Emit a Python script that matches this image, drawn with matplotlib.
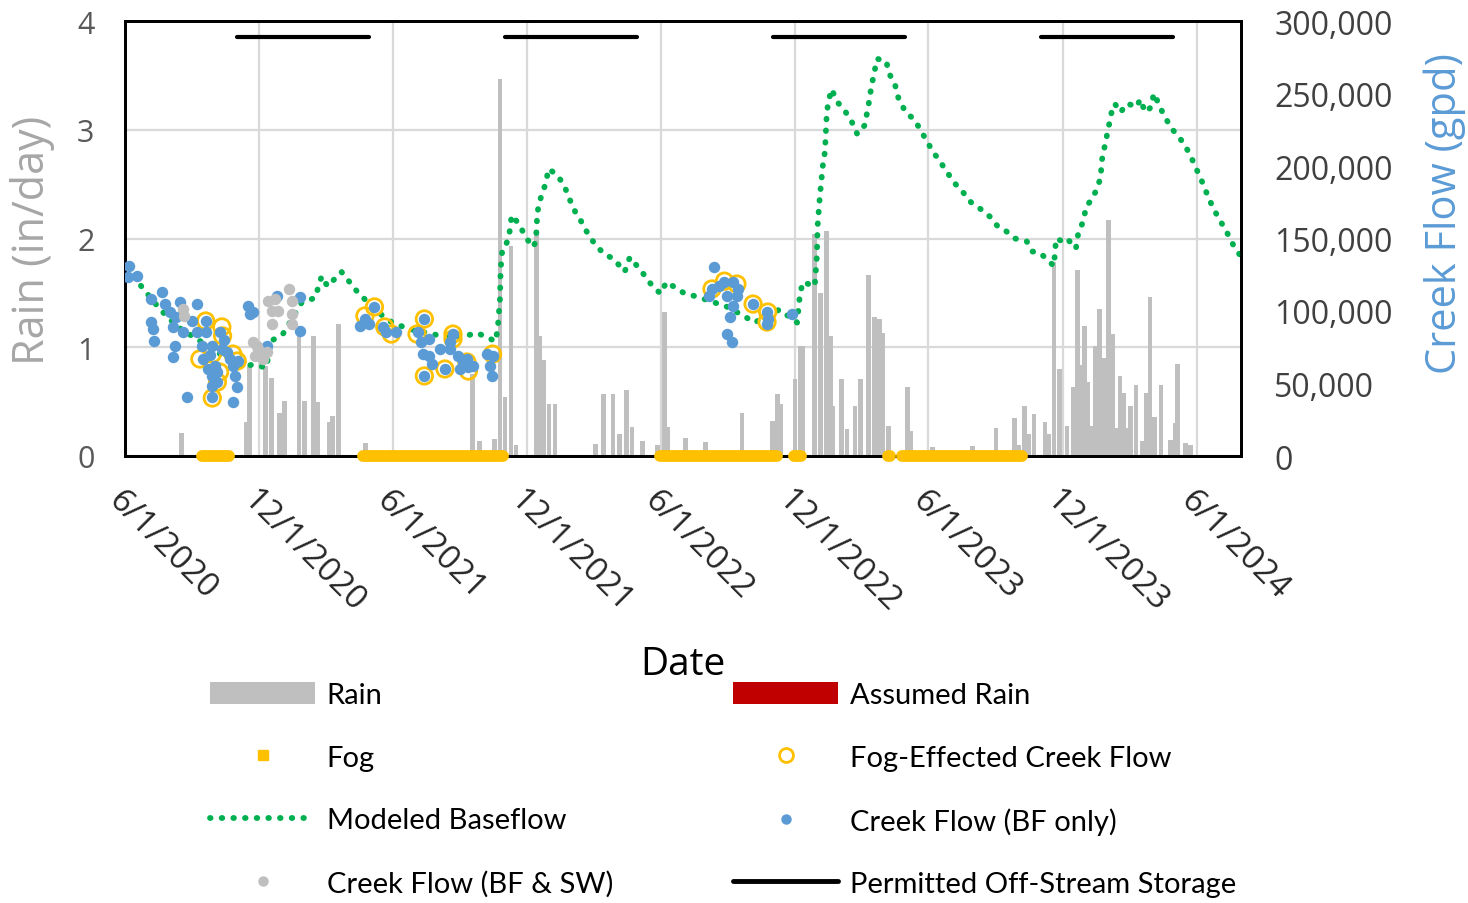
import matplotlib
matplotlib.use("Agg")
import matplotlib.pyplot as plt
from matplotlib.lines import Line2D
from matplotlib.patches import Patch
from matplotlib.ticker import FuncFormatter
import pandas as pd

plt.rcParams['font.family'] = ['Open Sans', 'DejaVu Sans']

# rain (in/day), left axis
rain_dates = ['2020-08-17', '2020-11-13', '2020-11-18', '2020-12-10', '2020-12-18', '2020-12-29',
              '2021-01-04', '2021-01-24', '2021-02-01', '2021-02-13', '2021-02-19', '2021-03-06',
              '2021-03-11', '2021-03-19', '2021-04-25',
              '2021-09-18', '2021-09-27', '2021-10-18', '2021-10-25', '2021-11-01', '2021-11-09',
              '2021-11-16', '2021-12-14', '2021-12-18', '2021-12-24', '2021-12-31', '2022-01-08',
              '2022-03-04', '2022-03-15', '2022-03-28', '2022-04-06', '2022-04-15', '2022-04-23',
              '2022-05-07', '2022-05-28', '2022-06-06', '2022-06-11', '2022-07-05', '2022-08-01',
              '2022-09-20',
              '2022-10-31', '2022-11-07', '2022-11-12', '2022-12-01', '2022-12-08', '2022-12-12',
              '2022-12-28', '2023-01-05', '2023-01-13', '2023-01-19', '2023-01-22', '2023-02-02',
              '2023-02-10', '2023-02-21', '2023-02-28', '2023-03-11', '2023-03-19', '2023-03-26',
              '2023-03-31', '2023-04-08', '2023-05-03', '2023-05-08', '2023-06-07', '2023-07-31',
              '2023-09-01', '2023-09-26', '2023-10-02', '2023-10-10', '2023-10-16', '2023-10-23',
              '2023-11-07', '2023-11-12', '2023-11-19', '2023-11-27', '2023-12-07', '2023-12-15',
              '2023-12-21', '2023-12-26', '2023-12-31', '2024-01-04', '2024-01-08', '2024-01-14',
              '2024-01-20', '2024-01-26', '2024-02-01', '2024-02-07', '2024-02-11', '2024-02-17',
              '2024-02-22', '2024-02-26', '2024-03-02', '2024-03-10', '2024-03-18', '2024-03-24',
              '2024-03-29', '2024-04-04', '2024-04-13', '2024-04-26', '2024-05-02', '2024-05-05',
              '2024-05-16', '2024-05-23']
rain_in = [0.21, 0.31, 0.83, 0.83, 0.72, 0.40, 0.51, 1.17, 0.51, 1.10, 0.50, 0.31, 0.37, 1.21, 0.12,
           0.75, 0.14, 0.16, 3.47, 0.54, 1.93, 0.10, 2.08, 1.10, 0.88, 0.48, 0.48, 0.11, 0.57, 0.57,
           0.20, 0.61, 0.27, 0.14, 0.10, 1.32, 0.27, 0.17, 0.13, 0.40,
           0.32, 0.57, 0.48, 0.71, 1.01, 1.01, 2.04, 1.50, 2.07, 1.10, 0.46, 0.71, 0.25, 0.46, 0.71,
           1.66, 1.28, 1.26, 1.13, 0.28, 0.63, 0.23, 0.08, 0.09,
           0.26, 0.35, 0.10, 0.46, 0.20, 0.39, 0.31, 0.20, 1.78, 0.80, 0.28, 0.63, 1.71, 0.84, 1.20,
           0.68, 0.28, 1.01, 1.35, 0.90, 2.17, 1.12, 0.26, 0.74, 0.58, 0.26, 0.46, 0.65, 0.14, 0.58,
           1.46, 0.36, 0.65, 0.15, 0.30, 0.85, 0.12, 0.10]

# fog periods (drawn on the zero line)
fog_start = ['2020-09-14', '2021-04-21', '2022-05-31', '2022-11-30', '2023-04-07', '2023-04-26']
fog_end = ['2020-10-21', '2021-10-29', '2022-11-06', '2022-12-09', '2023-04-10', '2023-10-06']

# permitted off-stream storage seasons
perm_start = ['2020-11-01', '2021-11-01', '2022-11-01', '2023-11-01']
perm_end = ['2021-04-30', '2022-04-30', '2023-04-30', '2024-04-30']
perm_level = 3.85

# modeled baseflow (gpd), right axis
base_dates = ['2020-06-03', '2020-06-17', '2020-06-28', '2020-07-19', '2020-08-12', '2020-11-07',
              '2020-11-21', '2020-12-11', '2020-12-16', '2021-01-02', '2021-01-08', '2021-01-28',
              '2021-02-15', '2021-02-24', '2021-03-04', '2021-03-23', '2021-04-03', '2021-04-14',
              '2021-04-26', '2021-05-07', '2021-05-28', '2021-06-20', '2021-08-04', '2021-09-04',
              '2021-09-23', '2021-10-07', '2021-10-19', '2021-10-22', '2021-10-25', '2021-10-26',
              '2021-10-28', '2021-11-01', '2021-11-07', '2021-11-10', '2021-11-20', '2021-11-29',
              '2021-12-09', '2021-12-13', '2021-12-15', '2021-12-19', '2021-12-27', '2021-12-30',
              '2022-01-11', '2022-01-21', '2022-01-28', '2022-02-05', '2022-02-15', '2022-02-22',
              '2022-03-05', '2022-03-17', '2022-03-29', '2022-04-13', '2022-04-20', '2022-04-30',
              '2022-05-11', '2022-05-21', '2022-06-01', '2022-06-09', '2022-07-04', '2022-07-20',
              '2022-08-30', '2022-09-21', '2022-10-07', '2022-11-10', '2022-12-04', '2022-12-08',
              '2022-12-12', '2022-12-28', '2022-12-31', '2023-01-01', '2023-01-04', '2023-01-08',
              '2023-01-11', '2023-01-13', '2023-01-15', '2023-01-20', '2023-01-28', '2023-02-06',
              '2023-02-17', '2023-02-24', '2023-03-06', '2023-03-11', '2023-03-15', '2023-03-23',
              '2023-04-05', '2023-04-07', '2023-04-16', '2023-04-21', '2023-05-01', '2023-05-13',
              '2023-05-21', '2023-05-29', '2023-06-07', '2023-06-17', '2023-06-26', '2023-07-07',
              '2023-07-18', '2023-07-29', '2023-08-12', '2023-08-24', '2023-09-04', '2023-09-15',
              '2023-09-27', '2023-10-13', '2023-10-21', '2023-10-31', '2023-11-09', '2023-11-19',
              '2023-11-22', '2023-12-01', '2023-12-07', '2023-12-19', '2023-12-22', '2023-12-29',
              '2024-01-02', '2024-01-11', '2024-01-18', '2024-01-22', '2024-01-23', '2024-01-27',
              '2024-02-02', '2024-02-06', '2024-02-10', '2024-02-18', '2024-02-26', '2024-03-12',
              '2024-03-15', '2024-03-23', '2024-03-31', '2024-04-03', '2024-04-07', '2024-04-15',
              '2024-04-27', '2024-05-06', '2024-05-16', '2024-05-25', '2024-06-02', '2024-06-09',
              '2024-06-16', '2024-06-24', '2024-07-03', '2024-07-12', '2024-07-20', '2024-07-29']
base_gpd = [130000, 121000, 114000, 101000, 89000, 61000,
            63000, 61000, 79000, 84000, 89000, 106000,
            109000, 124000, 117000, 127000, 120000, 113000,
            107000, 101000, 93000, 88000, 83000, 82000,
            85000, 82000, 79000, 88000, 108000, 129000,
            141000, 143000, 154000, 166000, 160000, 151000,
            144000, 148000, 168000, 177000, 189000, 198000,
            194000, 186000, 177000, 168000, 160000, 153000,
            145000, 139000, 136000, 127000, 137000, 131000,
            124000, 117000, 112000, 120000, 112000, 110000,
            103000, 97000, 92000, 101000, 92000, 112000,
            120000, 117000, 138000, 159000, 179000, 200000,
            210000, 232000, 243000, 253000, 244000, 239000,
            230000, 222000, 228000, 241000, 254000, 274000,
            272000, 265000, 257000, 247000, 237000, 232000,
            225000, 218000, 210000, 203000, 196000, 188000,
            182000, 175000, 170000, 165000, 158000, 155000,
            150000, 148000, 141000, 140000, 136000, 131000,
            150000, 148000, 150000, 143000, 153000, 162000,
            172000, 178000, 186000, 193000, 203000, 213000,
            228000, 238000, 243000, 237000, 243000, 241000,
            246000, 237000, 241000, 250000, 246000, 237000,
            226000, 221000, 214000, 205000, 196000, 188000,
            179000, 170000, 162000, 154000, 146000, 139000]

# measured creek flow, baseflow only (gpd)
bf_dates = ['2020-06-07', '2020-06-05', '2020-06-17', '2020-07-07', '2020-07-22', '2020-07-07',
            '2020-07-09', '2020-07-10', '2020-07-25', '2020-08-01', '2020-08-05', '2020-08-08',
            '2020-08-05', '2020-08-15', '2020-08-10', '2020-08-19', '2020-08-25', '2020-09-07',
            '2020-08-31', '2020-09-07', '2020-09-14', '2020-09-15', '2020-09-19', '2020-09-20',
            '2020-09-28', '2020-09-22', '2020-09-28', '2020-09-28', '2020-10-04', '2020-10-08',
            '2020-10-11', '2020-10-18', '2020-10-22', '2020-10-26', '2020-11-02', '2020-10-29',
            '2020-11-01', '2020-10-26', '2020-09-27', '2020-10-01', '2020-10-04', '2020-09-25',
            '2020-10-14',
            '2020-11-16', '2020-11-18', '2020-11-22', '2020-12-11', '2020-12-25', '2021-01-25',
            '2021-01-25',
            '2021-05-07', '2021-04-24', '2021-04-17', '2021-04-30', '2021-05-18', '2021-05-23',
            '2021-06-06',
            '2021-07-14', '2021-07-05', '2021-07-10', '2021-07-21', '2021-07-12', '2021-07-21',
            '2021-07-25', '2021-08-04', '2021-08-18', '2021-08-22', '2021-08-18', '2021-08-29',
            '2021-09-05', '2021-09-12', '2021-09-10', '2021-09-18', '2021-10-07', '2021-10-15',
            '2021-10-11', '2021-10-14', '2021-07-14', '2021-08-11', '2021-09-01',
            '2022-08-13', '2022-08-06', '2022-08-10', '2022-08-20', '2022-08-27', '2022-09-07',
            '2022-09-14', '2022-08-31', '2022-09-13', '2022-09-07', '2022-09-03', '2022-08-31',
            '2022-09-06', '2022-10-05', '2022-10-24', '2022-10-25', '2022-10-24', '2022-11-27']
bf_gpd = [131000, 123500, 124000, 108000, 113000, 92400,
          87600, 79300, 104800, 99300, 89000, 75900,
          68300, 106200, 95900, 85500, 40700, 104800,
          93100, 85500, 75900, 66900, 93100, 85500,
          75900, 60000, 55200, 48300, 51000, 85500,
          73800, 71700, 66900, 62100, 65500, 55200,
          47600, 37200, 40700, 62000, 58000, 70000,
          80000,
          103500, 97900, 99300, 75900, 110400, 109700,
          86200,
          102800, 94500, 89700, 91000, 89000, 85500,
          85500,
          94500, 85500, 78600, 80700, 70300, 69000,
          63500, 73800, 78600, 84100, 73800, 69000,
          64800, 61400, 66900, 62100, 70300, 69000,
          62100, 55200, 55200, 60000, 60000,
          130300, 110400, 115200, 117200, 120000, 120000,
          115200, 110400, 110400, 103500, 95900, 84100,
          78600, 104800, 99300, 94500, 91000, 97900]

# measured creek flow, baseflow & stormwater (gpd)
sw_dates = ['2020-08-19', '2020-08-21', '2020-11-22', '2020-11-29', '2020-11-25', '2020-12-06',
            '2020-12-11', '2020-12-13', '2020-12-22', '2020-12-18', '2020-12-26', '2020-12-19',
            '2021-01-11', '2021-01-14', '2021-01-15', '2021-01-14', '2020-11-28', '2020-12-02']
sw_gpd = [101400, 96600, 78600, 73800, 69000, 66900,
          71700, 106900, 108300, 100000, 100000, 91000,
          115200, 106900, 97900, 91000, 75900, 71700]

# fog-effected creek flow (gpd)
fogq_dates = ['2020-09-19', '2020-10-11', '2020-10-12', '2020-09-11', '2020-09-28', '2020-10-26',
              '2020-11-01', '2020-10-08', '2020-10-05', '2020-09-28',
              '2021-05-07', '2021-04-24', '2021-05-21', '2021-05-30',
              '2021-07-14', '2021-07-04', '2021-07-14', '2021-08-11', '2021-08-22', '2021-08-22',
              '2021-09-10', '2021-09-12', '2021-10-15',
              '2022-08-10', '2022-08-27', '2022-09-13', '2022-10-05', '2022-10-24', '2022-10-25']
fogq_gpd = [93100, 89000, 82800, 66900, 70300, 70300,
            65500, 57900, 51000, 40000,
            102800, 96600, 89000, 84100,
            94500, 84100, 55200, 60000, 84100, 80700,
            64800, 58600, 70300,
            115200, 120600, 118600, 104800, 92400, 99300]

x_ticks = ['2020-06-01', '2020-12-01', '2021-06-01', '2021-12-01', '2022-06-01', '2022-12-01',
           '2023-06-01', '2023-12-01', '2024-06-01']

GRAY = '#BFBFBF'
BLUE = '#5B9BD5'
ORANGE = '#FFC000'
GREEN = '#00B050'
DOTS = (0, (0.1, 1.9))

fig = plt.figure(figsize=(14.68, 9.04), dpi=100)
ax = fig.add_axes([125 / 1468, 1 - 457 / 904, 1116 / 1468, 435 / 904])
ax2 = ax.twinx()

ax.bar(pd.to_datetime(rain_dates), rain_in, width=6.5, color=GRAY, zorder=2)
ax.set_ylim(0, 4)
ax.set_xlim(pd.Timestamp('2020-06-01'), pd.Timestamp('2024-07-31'))
ax.set_yticks(range(0, 5))
xt = pd.to_datetime(x_ticks)
ax.set_xticks(xt)
ax.set_xticklabels([f"{t.month}/{t.day}/{t.year}" for t in xt], rotation=-45,
                   ha='left', va='top', rotation_mode='anchor')
ax.grid(color='#D9D9D9', lw=1.6)
ax.set_axisbelow(True)
ax.tick_params(axis='y', length=0, pad=22, labelsize=22, labelcolor='#595959')
ax.tick_params(axis='x', length=0, pad=20, labelsize=24, labelcolor='#262626')

ax2.plot(pd.to_datetime(base_dates), base_gpd, color=GREEN, lw=4.2, linestyle=DOTS,
         dash_capstyle='round', zorder=2)
ax2.scatter(pd.to_datetime(fogq_dates), fogq_gpd, s=140, facecolors='none',
            edgecolors=ORANGE, linewidths=2.0, zorder=3)
ax2.scatter(pd.to_datetime(bf_dates), bf_gpd, s=68, color=BLUE, lw=0, zorder=4)
ax2.scatter(pd.to_datetime(sw_dates), sw_gpd, s=68, color=GRAY, lw=0, zorder=5)
ax2.hlines([perm_level * 75000] * len(perm_start), pd.to_datetime(perm_start),
           pd.to_datetime(perm_end), color='black', lw=3, capstyle='round', zorder=6)
ax2.hlines([0] * len(fog_start), pd.to_datetime(fog_start), pd.to_datetime(fog_end),
           color=ORANGE, lw=8.5, capstyle='round', zorder=7, clip_on=False)
ax2.set_ylim(0, 300000)
ax2.set_yticks(range(0, 300001, 50000))
ax2.yaxis.set_major_formatter(FuncFormatter(lambda v, p: f"{int(v):,}"))
ax2.tick_params(axis='y', length=0, pad=24, labelsize=23, labelcolor='#404040')

for a in (ax, ax2):
    for s in a.spines.values():
        s.set_color('black')
        s.set_linewidth(2)

fig.text(33 / 1468, 1 - 240 / 904, 'Rain (in/day)', rotation=90, ha='center', va='center',
         fontsize=31, color='#A6A6A6')
fig.text(1445 / 1468, 1 - 214 / 904, 'Creek Flow (gpd)', rotation=90, ha='center', va='center',
         fontsize=30, color=BLUE)
fig.text(683 / 1468, 1 - 665 / 904, 'Date', ha='center', va='center', fontsize=28, color='black')

col1 = [Patch(facecolor=GRAY),
        Line2D([], [], ls='none', marker='s', ms=7, color=ORANGE),
        Line2D([], [], color=GREEN, lw=4.2, linestyle=DOTS, dash_capstyle='round'),
        Line2D([], [], ls='none', marker='o', ms=6.5, color=GRAY)]
lab1 = ['Rain', 'Fog', 'Modeled Baseflow', 'Creek Flow (BF & SW)']
col2 = [Patch(facecolor='#C00000'),
        Line2D([], [], ls='none', marker='o', ms=10, mfc='none', mec=ORANGE, mew=2),
        Line2D([], [], ls='none', marker='o', ms=6.5, color=BLUE),
        Line2D([], [], color='black', lw=3.5, solid_capstyle='round')]
lab2 = ['Assumed Rain', 'Fog-Effected Creek Flow', 'Creek Flow (BF only)',
        'Permitted Off-Stream Storage']
for hs, ls_, x0 in ((col1, lab1, 210), (col2, lab2, 733)):
    fig.legend(hs, ls_, loc='upper left', bbox_to_anchor=(x0 / 1468, 1 - 683 / 904),
               frameon=False, prop={'family': ['Lato', 'DejaVu Sans'], 'size': 21},
               handlelength=3.6, handleheight=0.8, handletextpad=0.4, labelspacing=1.24,
               borderpad=0, borderaxespad=0)

fig.savefig('out.png', dpi=100)
